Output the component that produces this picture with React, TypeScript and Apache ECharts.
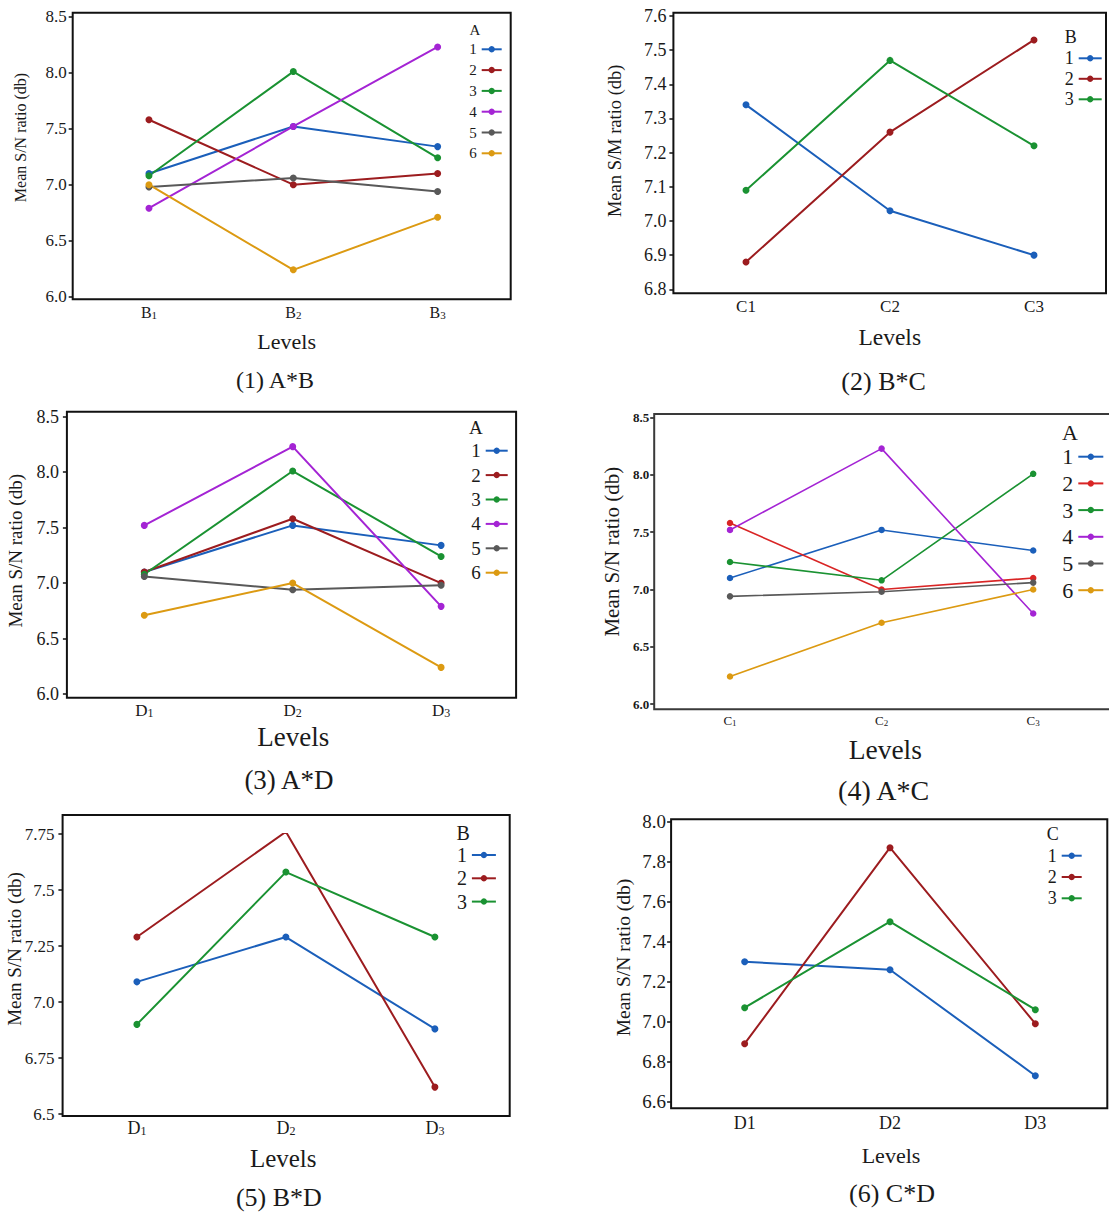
import React, { useEffect, useRef } from "react";
import * as echarts from "echarts";

const FONT = '"Liberation Serif", "Times New Roman", Times, serif';
const INK = "#1a1a1a";

// ---------------- Data ----------------
// (1) A*B
const abLevels = ["B1", "B2", "B3"];
const abNames = ["1", "2", "3", "4", "5", "6"];
const abYTicks = ["6.0", "6.5", "7.0", "7.5", "8.0", "8.5"];
const abValues = [
  [7.10, 7.52, 7.34],
  [7.58, 7.00, 7.10],
  [7.08, 8.01, 7.24],
  [6.79, 7.52, 8.23],
  [6.98, 7.06, 6.94],
  [7.00, 6.24, 6.71],
];

// (2) B*C
const bcLevels = ["C1", "C2", "C3"];
const bcNames = ["1", "2", "3"];
const bcYTicks = ["6.8", "6.9", "7.0", "7.1", "7.2", "7.3", "7.4", "7.5", "7.6"];
const bcValues = [
  [7.34, 7.03, 6.90],
  [6.88, 7.26, 7.53],
  [7.09, 7.47, 7.22],
];

// (3) A*D
const adLevels = ["D1", "D2", "D3"];
const adNames = ["1", "2", "3", "4", "5", "6"];
const adYTicks = ["6.0", "6.5", "7.0", "7.5", "8.0", "8.5"];
const adValues = [
  [7.10, 7.52, 7.34],
  [7.10, 7.58, 7.00],
  [7.08, 8.01, 7.24],
  [7.52, 8.23, 6.79],
  [7.06, 6.94, 6.98],
  [6.71, 7.00, 6.24],
];

// (4) A*C
const acLevels = ["C1", "C2", "C3"];
const acNames = ["1", "2", "3", "4", "5", "6"];
const acYTicks = ["6.0", "6.5", "7.0", "7.5", "8.0", "8.5"];
const acValues = [
  [7.10, 7.52, 7.34],
  [7.58, 7.00, 7.10],
  [7.24, 7.08, 8.01],
  [7.52, 8.23, 6.79],
  [6.94, 6.98, 7.06],
  [6.24, 6.71, 7.00],
];

// (5) B*D
const bdLevels = ["D1", "D2", "D3"];
const bdNames = ["1", "2", "3"];
const bdYTicks = ["6.5", "6.75", "7.0", "7.25", "7.5", "7.75"];
const bdValues = [
  [7.09, 7.29, 6.88],
  [7.29, 7.76, 6.62],
  [6.90, 7.58, 7.29],
];

// (6) C*D
const cdLevels = ["D1", "D2", "D3"];
const cdNames = ["1", "2", "3"];
const cdYTicks = ["6.6", "6.8", "7.0", "7.2", "7.4", "7.6", "7.8", "8.0"];
const cdValues = [
  [7.30, 7.26, 6.73],
  [6.89, 7.87, 6.99],
  [7.07, 7.50, 7.06],
];

// ---------------- Styles ----------------
const colors6 = ["#1b5fba", "#9c1c1f", "#1a9232", "#a424d4", "#595959", "#dc9a12"];
const colors6b = ["#1b5fba", "#d92525", "#1a9232", "#a424d4", "#595959", "#dc9a12"];
const colors3 = ["#1b5fba", "#9c1c1f", "#1a9232"];

const panels = [
  { levels: abLevels, names: abNames, values: abValues, yTicks: abYTicks, factor: "A", yName: "Mean S/N ratio (db)", caption: "(1) A*B", sub: true, colors: colors6 },
  { levels: bcLevels, names: bcNames, values: bcValues, yTicks: bcYTicks, factor: "B", yName: "Mean S/M ratio (db)", caption: "(2) B*C", sub: false, colors: colors3 },
  { levels: adLevels, names: adNames, values: adValues, yTicks: adYTicks, factor: "A", yName: "Mean S/N ratio (db)", caption: "(3) A*D", sub: true, colors: colors6 },
  { levels: acLevels, names: acNames, values: acValues, yTicks: acYTicks, factor: "A", yName: "Mean S/N ratio (db)", caption: "(4) A*C", sub: true, colors: colors6b },
  { levels: bdLevels, names: bdNames, values: bdValues, yTicks: bdYTicks, factor: "B", yName: "Mean S/N ratio (db)", caption: "(5) B*D", sub: true, colors: colors3 },
  { levels: cdLevels, names: cdNames, values: cdValues, yTicks: cdYTicks, factor: "C", yName: "Mean S/N ratio (db)", caption: "(6) C*D", sub: false, colors: colors3 },
];

const layouts = [
  { frame: [72.7, 12.7, 510.7, 299.3], grid: [76.8, 16.7, 433, 280], yOffset: 4.1, tickFont: 17, tickBold: false, yMargin: 6, xFont: 16, xMargin: 8,
    yName: [20, 137.5, 16], levelsT: [286.7, 341.5, 22], captionT: [275, 380, 24],
    leg: { iconEnd: 502.7, iw: 20, row1: 49.3, sp: 20.8, font: 15, title: [475, 30] }, lw: 2, sym: 7 },
  { frame: [673.4, 12.7, 1106, 293.3], grid: [674, 16, 432, 273.3], yOffset: 0.6, tickFont: 18, tickBold: false, yMargin: 7, xFont: 17, xMargin: 9,
    yName: [615.4, 140.8, 18.5], levelsT: [889.7, 336.7, 23.5], captionT: [883.6, 381.7, 26],
    leg: { iconEnd: 1102.7, iw: 23, row1: 58.3, sp: 20.5, font: 18, title: [1070.7, 36.7] }, lw: 2, sym: 7 },
  { frame: [66.9, 411.7, 516.1, 697.7], grid: [70.1, 416.7, 445.2, 277.3], yOffset: 3.2, tickFont: 18, tickBold: false, yMargin: 8, xFont: 17, xMargin: 7.5,
    yName: [15.2, 550.8, 19], levelsT: [293.3, 737.3, 27], captionT: [289, 780, 27],
    leg: { iconEnd: 508.7, iw: 22, row1: 450.7, sp: 24.4, font: 19, title: [475.9, 427.3] }, lw: 2, sym: 7 },
  { frame: [654.2, 414, 1112, 709.3], grid: [654.2, 417.7, 459.6, 286.3], yOffset: 0, tickFont: 13, tickBold: true, yMargin: 5, xFont: 13, xMargin: 10,
    yName: [612, 551.7, 21], levelsT: [885.3, 749.3, 27.5], captionT: [883.6, 790, 28],
    leg: { iconEnd: 1104.3, iw: 25, row1: 456.7, sp: 26.7, font: 22, title: [1070, 432.3] }, lw: 1.6, sym: 6.5 },
  { frame: [62.6, 815, 509.7, 1116], grid: [62.4, 834, 447, 280], yOffset: 0, tickFont: 17, tickBold: false, yMargin: 8, xFont: 18, xMargin: 5.3,
    yName: [14, 949, 19], levelsT: [283.2, 1158.3, 25], captionT: [278.9, 1197, 26],
    leg: { iconEnd: 496.9, iw: 24, row1: 855, sp: 23.3, font: 20, title: [463.1, 832.7] }, lw: 2, sym: 7 },
  { frame: [671.1, 819.3, 1107.3, 1108.3], grid: [672, 821.7, 436, 280], yOffset: 0.9, tickFont: 19, tickBold: false, yMargin: 5, xFont: 18, xMargin: 12.6,
    yName: [623.8, 957.5, 19.5], levelsT: [891, 1155, 22], captionT: [892, 1193.3, 26],
    leg: { iconEnd: 1082.7, iw: 20, row1: 855.7, sp: 21.3, font: 18, title: [1052.7, 834] }, lw: 2, sym: 7 },
];

const W = 1109;
const H = 1212;

function buildOption() {
  const grid: any[] = [];
  const xAxis: any[] = [];
  const yAxis: any[] = [];
  const series: any[] = [];
  const legend: any[] = [];
  const graphic: any[] = [];

  panels.forEach((p, i) => {
    const L = layouts[i];
    grid.push({ left: L.grid[0], top: L.grid[1], width: L.grid[2], height: L.grid[3], containLabel: false });

    const yMin = parseFloat(p.yTicks[0]);
    const yMax = parseFloat(p.yTicks[p.yTicks.length - 1]);
    const step = Math.round((parseFloat(p.yTicks[1]) - yMin) * 1e6) / 1e6;

    const xLabel: any = {
      margin: L.xMargin,
      color: INK,
      fontFamily: FONT,
      fontSize: L.xFont,
    };
    if (p.sub) {
      xLabel.formatter = (v: string) => `{m|${v[0]}}{s|${v.slice(1)}}`;
      xLabel.rich = {
        m: { fontSize: L.xFont, fontFamily: FONT, color: INK, verticalAlign: "bottom" },
        s: { fontSize: Math.round(L.xFont * 0.68), fontFamily: FONT, color: INK, verticalAlign: "bottom" },
      };
    }
    xAxis.push({
      type: "category",
      gridIndex: i,
      data: p.levels,
      boundaryGap: true,
      axisLine: { show: false },
      axisTick: { show: false },
      splitLine: { show: false },
      axisLabel: xLabel,
    });

    yAxis.push({
      type: "value",
      gridIndex: i,
      min: yMin,
      max: yMax,
      interval: step,
      offset: L.yOffset,
      axisLine: { show: false },
      axisTick: { show: true, length: 4, lineStyle: { color: "#111", width: 1.5 } },
      splitLine: { show: false },
      axisLabel: {
        margin: L.yMargin,
        color: INK,
        fontFamily: FONT,
        fontSize: L.tickFont,
        fontWeight: L.tickBold ? "bold" : "normal",
        formatter: (v: number) => {
          const hit = p.yTicks.find((t) => Math.abs(parseFloat(t) - v) < 1e-6);
          return hit !== undefined ? hit : "";
        },
      },
    });

    const legendNames: string[] = [];
    p.values.forEach((vals, j) => {
      const name = `p${i}|${p.names[j]}`;
      legendNames.push(name);
      const c = p.colors[j];
      series.push({
        type: "line",
        name,
        xAxisIndex: i,
        yAxisIndex: i,
        data: vals,
        symbol: "circle",
        symbolSize: L.sym,
        showSymbol: true,
        lineStyle: { width: L.lw, color: c },
        itemStyle: { color: c },
        emphasis: { disabled: true },
        z: 3,
      });
    });

    legend.push({
      orient: "vertical",
      align: "right",
      right: W - L.leg.iconEnd,
      top: L.leg.row1 - L.leg.sp / 2,
      padding: 0,
      itemGap: 0,
      itemWidth: L.leg.iw,
      itemHeight: 8,
      selectedMode: false,
      data: legendNames,
      formatter: (n: string) => n.split("|")[1],
      textStyle: { fontSize: L.leg.font, fontFamily: FONT, color: INK, lineHeight: L.leg.sp },
    });

    const f = L.frame;
    graphic.push({
      type: "rect",
      silent: true,
      z: 1,
      shape: { x: f[0], y: f[1], width: f[2] - f[0], height: f[3] - f[1] },
      style: { fill: "none", stroke: i === 3 ? "#3a3a3a" : "#111", lineWidth: 2 },
    });
    graphic.push({
      type: "text",
      silent: true,
      x: L.leg.title[0],
      y: L.leg.title[1],
      style: { text: p.factor, fontSize: L.leg.font, fontFamily: FONT, fill: INK, align: "center", verticalAlign: "middle" },
    });
    graphic.push({
      type: "text",
      silent: true,
      x: L.yName[0],
      y: L.yName[1],
      rotation: Math.PI / 2,
      style: { text: p.yName, fontSize: L.yName[2], fontFamily: FONT, fill: INK, align: "center", verticalAlign: "middle" },
    });
    graphic.push({
      type: "text",
      silent: true,
      x: L.levelsT[0],
      y: L.levelsT[1],
      style: { text: "Levels", fontSize: L.levelsT[2], fontFamily: FONT, fill: INK, align: "center", verticalAlign: "middle" },
    });
    graphic.push({
      type: "text",
      silent: true,
      x: L.captionT[0],
      y: L.captionT[1],
      style: { text: p.caption, fontSize: L.captionT[2], fontFamily: FONT, fill: INK, align: "center", verticalAlign: "middle" },
    });
  });

  return {
    animation: false,
    backgroundColor: "#ffffff",
    grid,
    xAxis,
    yAxis,
    series,
    legend,
    graphic,
  };
}

export default function App() {
  const ref = useRef<HTMLDivElement>(null);
  useEffect(() => {
    if (!ref.current) return;
    const chart = echarts.init(ref.current, undefined, { renderer: "svg" });
    chart.setOption(buildOption());
    return () => {
      chart.dispose();
    };
  }, []);
  return (
    <div
      ref={ref}
      style={{ position: "absolute", left: 0, top: 0, width: W, height: H, background: "#fff" }}
    />
  );
}
